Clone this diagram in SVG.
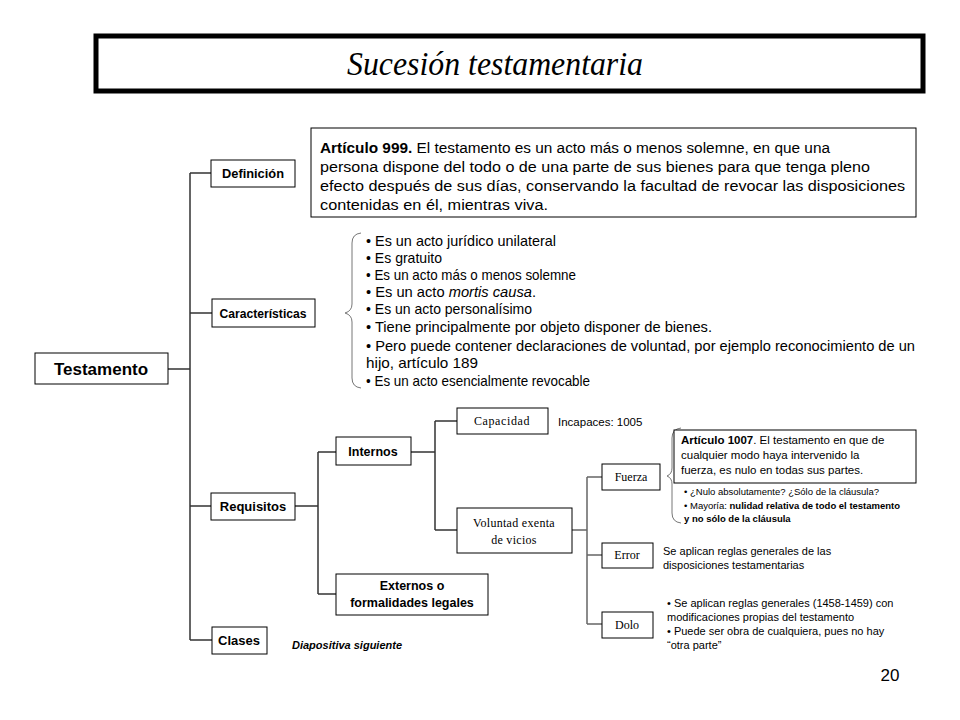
<svg xmlns="http://www.w3.org/2000/svg" width="960" height="720" viewBox="0 0 960 720">
<style>
.box{fill:#fff;stroke:#000;stroke-width:1}
.sans{font-family:"Liberation Sans",Arial,sans-serif;fill:#000}
.serif{font-family:"Liberation Serif","Times New Roman",serif;fill:#000}
.b{font-weight:bold}
.c{text-anchor:middle}
.ln{fill:none;stroke:#333;stroke-width:1.5}
.lg{fill:none;stroke:#666;stroke-width:1.5}
.br{fill:none;stroke:#777;stroke-width:1}
</style>
<rect width="960" height="720" fill="#fff"/>
<g id="title">
<rect x="96" y="36" width="827" height="55" fill="#fff" stroke="#000" stroke-width="5"/>
<text x="495" y="75" class="serif c" font-size="34" font-style="italic" textLength="296" lengthAdjust="spacingAndGlyphs">Sucesión testamentaria</text>
</g>
<g id="connectors">
<path class="ln" d="M168 369H190M190 173V640M190 173H211M190 313H212M190 506H211M190 640H212"/>
<path class="ln" d="M295 506H318M318 452V594M318 452H336M318 594H336"/>
<path class="ln" d="M411 452H435M435 421V530M435 421H457M435 530H457"/>
<path class="lg" d="M572 530H587M587 477V624M587 477H602M587 555H602M587 624H602"/>
<path class="br" d="M361 233Q352 234 352 243V304Q352 311 345 313Q352 315 352 322V378Q352 387 361 388"/>
<path class="br" d="M681 428Q672 429 672 438V468Q672 474 667 476Q672 478 672 484V513Q672 522 681 523"/>
</g>
<g id="testamento">
<rect class="box" x="35" y="353" width="133" height="31"/>
<text x="101" y="375" class="sans b c" font-size="17">Testamento</text>
</g>
<g id="definicion">
<rect class="box" x="211" y="160" width="84" height="27"/>
<text x="253" y="178" class="sans b c" font-size="12" textLength="62" lengthAdjust="spacingAndGlyphs">Definición</text>
</g>
<g id="articulo999">
<rect class="box" x="311" y="128" width="605" height="89"/>
<g class="sans" font-size="15.5">
<text x="320" y="153" textLength="510" lengthAdjust="spacingAndGlyphs"><tspan font-weight="bold">Artículo 999.</tspan> El testamento es un acto más o menos solemne, en que una</text>
<text x="320" y="172" textLength="550" lengthAdjust="spacingAndGlyphs">persona dispone del todo o de una parte de sus bienes para que tenga pleno</text>
<text x="320" y="191" textLength="585" lengthAdjust="spacingAndGlyphs">efecto después de sus días, conservando la facultad de revocar las disposiciones</text>
<text x="320" y="210" textLength="228" lengthAdjust="spacingAndGlyphs">contenidas en él, mientras viva.</text>
</g>
</g>
<g id="caracteristicas">
<rect class="box" x="212" y="299" width="103" height="28"/>
<text x="263" y="318" class="sans b c" font-size="12" textLength="87" lengthAdjust="spacingAndGlyphs">Características</text>
</g>
<g id="lista-caracteristicas" class="sans" font-size="14.5">
<text x="366" y="246" textLength="190" lengthAdjust="spacingAndGlyphs">• Es un acto jurídico unilateral</text>
<text x="366" y="263" textLength="76" lengthAdjust="spacingAndGlyphs">• Es gratuito</text>
<text x="366" y="280" textLength="210" lengthAdjust="spacingAndGlyphs">• Es un acto más o menos solemne</text>
<text x="366" y="297" textLength="170" lengthAdjust="spacingAndGlyphs">• Es un acto <tspan font-style="italic">mortis causa</tspan>.</text>
<text x="366" y="314" textLength="166" lengthAdjust="spacingAndGlyphs">• Es un acto personalísimo</text>
<text x="366" y="332" textLength="346" lengthAdjust="spacingAndGlyphs">• Tiene principalmente por objeto disponer de bienes.</text>
<text x="366" y="351" textLength="549" lengthAdjust="spacingAndGlyphs">• Pero puede contener declaraciones de voluntad, por ejemplo reconocimiento de un</text>
<text x="366" y="368" textLength="112" lengthAdjust="spacingAndGlyphs">hijo, artículo 189</text>
<text x="366" y="386" textLength="224" lengthAdjust="spacingAndGlyphs">• Es un acto esencialmente revocable</text>
</g>
<g id="requisitos">
<rect class="box" x="211" y="493" width="84" height="27"/>
<text x="253" y="511" class="sans b c" font-size="13">Requisitos</text>
</g>
<g id="clases">
<rect class="box" x="212" y="627" width="55" height="27"/>
<text x="239" y="645" class="sans b c" font-size="13">Clases</text>
<text x="292" y="649" class="sans b" font-size="11" font-style="italic">Diapositiva siguiente</text>
</g>
<g id="internos">
<rect class="box" x="336" y="437" width="75" height="28"/>
<text x="373" y="456" class="sans b c" font-size="12.5">Internos</text>
</g>
<g id="externos">
<rect class="box" x="336" y="574" width="152" height="41"/>
<text x="412" y="590" class="sans b c" font-size="12.5">Externos o</text>
<text x="412" y="607" class="sans b c" font-size="12.5">formalidades legales</text>
</g>
<g id="capacidad">
<rect class="box" x="457" y="408" width="91" height="26"/>
<text x="502" y="425" class="serif c" font-size="12" letter-spacing="0.6">Capacidad</text>
<text x="558" y="426" class="sans" font-size="11.5" fill="#222">Incapaces: 1005</text>
</g>
<g id="voluntad">
<rect class="box" x="457" y="508" width="115" height="45"/>
<text x="514" y="527" class="serif c" font-size="12" letter-spacing="0.3">Voluntad exenta</text>
<text x="514" y="544" class="serif c" font-size="12" letter-spacing="0.3">de vicios</text>
</g>
<g id="fuerza">
<rect class="box" x="602" y="464" width="58" height="26"/>
<text x="631" y="481" class="serif c" font-size="12">Fuerza</text>
</g>
<g id="articulo1007">
<rect class="box" x="674" y="430" width="242" height="53"/>
<g class="sans" font-size="11.5">
<text x="681" y="444"><tspan font-weight="bold">Artículo 1007</tspan>. El testamento en que de</text>
<text x="681" y="459">cualquier modo haya intervenido la</text>
<text x="681" y="474">fuerza, es nulo en todas sus partes.</text>
</g>
<g class="sans" font-size="9.5">
<text x="684" y="495">• ¿Nulo absolutamente? ¿Sólo de la cláusula?</text>
<text x="684" y="509">• Mayoría: <tspan font-weight="bold">nulidad relativa de todo el testamento</tspan></text>
<text x="684" y="522" font-weight="bold">y no sólo de la cláusula</text>
</g>
</g>
<g id="error">
<rect class="box" x="602" y="543" width="51" height="25"/>
<text x="627" y="559" class="serif c" font-size="12">Error</text>
<g class="sans" font-size="11">
<text x="663" y="555">Se aplican reglas generales de las</text>
<text x="663" y="569">disposiciones testamentarias</text>
</g>
</g>
<g id="dolo">
<rect class="box" x="602" y="612" width="51" height="26"/>
<text x="627" y="629" class="serif c" font-size="12">Dolo</text>
<g class="sans" font-size="11">
<text x="667" y="607">• Se aplican reglas generales (1458-1459) con</text>
<text x="667" y="621">modificaciones propias del testamento</text>
<text x="667" y="635">• Puede ser obra de cualquiera, pues no hay</text>
<text x="667" y="649">“otra parte”</text>
</g>
</g>
<text x="890" y="681" class="sans c" font-size="17">20</text>
</svg>
